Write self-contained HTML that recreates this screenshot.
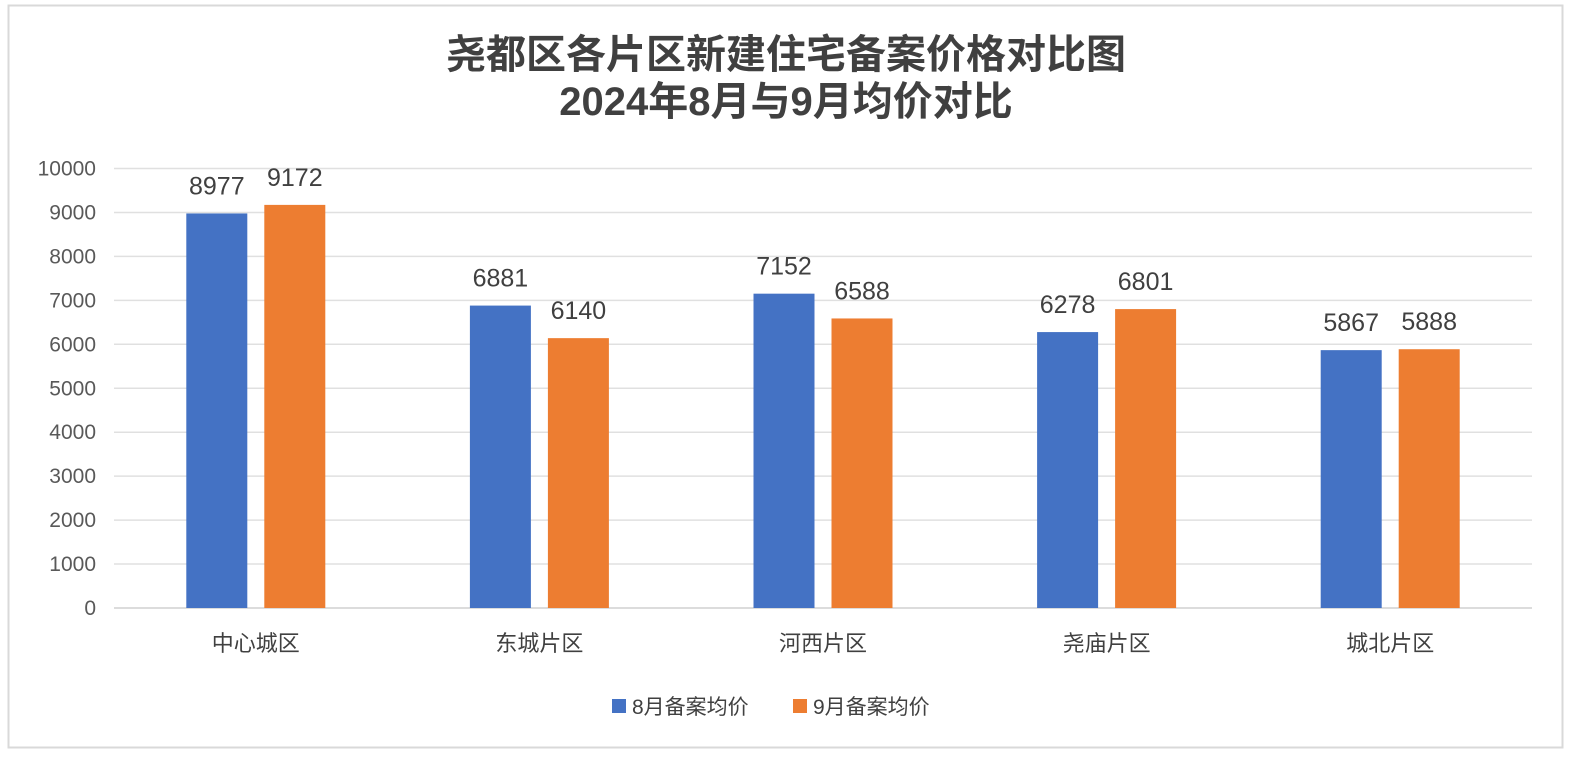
<!DOCTYPE html>
<html><head><meta charset="utf-8"><style>
body{margin:0;background:#fff;font-family:"Liberation Sans","Noto Sans CJK SC",sans-serif;}
svg text{font-family:"Liberation Sans","Noto Sans CJK SC",sans-serif;}
</style></head><body>
<svg width="1594" height="765" viewBox="0 0 1594 765">
<rect x="8.5" y="5.5" width="1554" height="742" fill="#fff" stroke="#d9d9d9" stroke-width="2"/>
<text x="786" y="68" text-anchor="middle" font-size="40" font-weight="bold" fill="#404040">尧都区各片区新建住宅备案价格对比图</text>
<text x="786" y="115" text-anchor="middle" font-size="40" font-weight="bold" fill="#404040">2024年8月与9月均价对比</text>
<g id="grid"></g><g id="bars"></g>
<g>
<rect x="612" y="699" width="14" height="14" fill="#4472c4"/>
<text x="632" y="714" font-size="21" fill="#404040">8月备案均价</text>
<rect x="793" y="699" width="14" height="14" fill="#ed7d31"/>
<text x="813" y="714" font-size="21" fill="#404040">9月备案均价</text>
</g>
</svg>
<script>
const categories=["中心城区","东城片区","河西片区","尧庙片区","城北片区"];
const aug=[8977,6881,7152,6278,5867];
const sep=[9172,6140,6588,6801,5888];
const ticks=[0,1000,2000,3000,4000,5000,6000,7000,8000,9000,10000];
const NS="http://www.w3.org/2000/svg";
const x0=114,x1=1532,yb=608,yt=168.5,vmax=10000;
const y=v=>yb-(v/vmax)*(yb-yt);
const cw=(x1-x0)/categories.length;
const xc=i=>x0+cw*(i+0.5);
function mk(t,a,p){const e=document.createElementNS(NS,t);for(const k in a)e.setAttribute(k,a[k]);p.appendChild(e);return e;}
const g=document.getElementById('grid');
ticks.forEach(t=>{
 const l=mk('line',{x1:x0,x2:x1,y1:y(t),y2:y(t),stroke:t===0?'#d0d0d0':'#e0e0e0','stroke-width':1.5},g);
 
 
 const tx=mk('text',{x:96,y:y(t)+7,'text-anchor':'end','font-size':21,fill:'#595959'},g);
 tx.textContent=t;
 
 
});
const b=document.getElementById('bars');
const bw=61;
categories.forEach((c,i)=>{
 [[aug,'#4472c4',-39,'aug'],[sep,'#ed7d31',39,'sep']].forEach(([arr,col,off,nm])=>{
  const v=arr[i],cx=xc(i)+off;
  const r=mk('rect',{x:cx-bw/2,y:y(v),width:bw,height:yb-y(v),fill:col},b);
  
  
  const t=mk('text',{x:cx,y:y(v)-19,'text-anchor':'middle','font-size':25,fill:'#404040'},b);
  t.textContent=v;
  
  
 });
 const ct=mk('text',{x:xc(i),y:651,'text-anchor':'middle','font-size':22,fill:'#404040'},b);
 ct.textContent=c;
 
 
});
</script>
</body></html>
